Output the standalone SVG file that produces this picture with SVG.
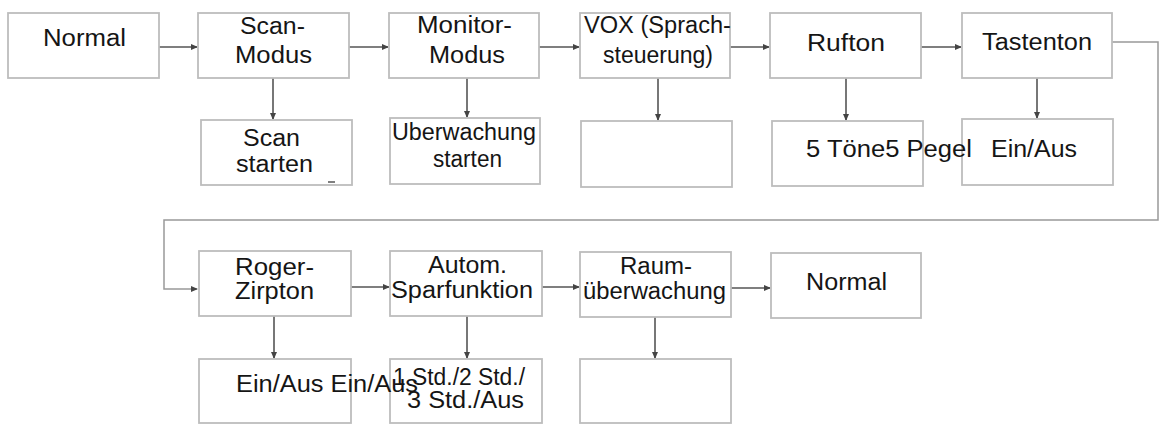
<svg xmlns="http://www.w3.org/2000/svg" width="1160" height="426" viewBox="0 0 1160 426">
<style>
.box{fill:#fff;stroke:#bdbdbd;stroke-width:1.8}
.t{font-family:"Liberation Sans",Arial,sans-serif;font-size:23.5px;fill:#151515;text-anchor:middle}
.s{text-anchor:start}
.c{fill:none;stroke:#555;stroke-width:1.6}
.l{fill:none;stroke:#999;stroke-width:1.5}
</style>
<defs>
<marker id="a" markerWidth="8" markerHeight="8" refX="6" refY="4" orient="auto" markerUnits="userSpaceOnUse">
<path d="M0,1 L7,4 L0,7 Z" fill="#444"/>
</marker>
</defs>
<rect width="1160" height="426" fill="#fff"/>
<g id="connectors">
<line class="c" x1="159" y1="47" x2="197" y2="47" marker-end="url(#a)"/>
<line class="c" x1="349" y1="47" x2="388" y2="47" marker-end="url(#a)"/>
<line class="c" x1="539" y1="47" x2="579" y2="47" marker-end="url(#a)"/>
<line class="c" x1="730" y1="47" x2="769" y2="47" marker-end="url(#a)"/>
<line class="c" x1="921" y1="47" x2="961" y2="47" marker-end="url(#a)"/>
<path class="l" d="M1112,42 H1158 V220 H164 V289 H197" marker-end="url(#a)"/>
<line class="c" x1="273" y1="78" x2="273" y2="119" marker-end="url(#a)"/>
<line class="c" x1="467" y1="78" x2="467" y2="117" marker-end="url(#a)"/>
<line class="c" x1="658" y1="78" x2="658" y2="120" marker-end="url(#a)"/>
<line class="c" x1="846" y1="78" x2="846" y2="120" marker-end="url(#a)"/>
<line class="c" x1="1037" y1="78" x2="1037" y2="118" marker-end="url(#a)"/>
<line class="c" x1="351" y1="287" x2="389" y2="287" marker-end="url(#a)"/>
<line class="c" x1="542" y1="287" x2="579" y2="287" marker-end="url(#a)"/>
<line class="c" x1="731" y1="288" x2="770" y2="288" marker-end="url(#a)"/>
<line class="c" x1="274" y1="316" x2="274" y2="358" marker-end="url(#a)"/>
<line class="c" x1="467" y1="316" x2="467" y2="358" marker-end="url(#a)"/>
<line class="c" x1="655" y1="317" x2="655" y2="358" marker-end="url(#a)"/>
</g>
<g id="n-normal1"><rect class="box" x="8" y="13" width="151" height="65"/><text class="t" x="84.5" y="46" font-size="24.5" textLength="83" lengthAdjust="spacingAndGlyphs">Normal</text></g>
<g id="n-scan"><rect class="box" x="198" y="13" width="151" height="65"/><text class="t" x="272.5" y="34" textLength="65" lengthAdjust="spacingAndGlyphs">Scan-</text><text class="t" x="273.5" y="63" textLength="77" lengthAdjust="spacingAndGlyphs">Modus</text></g>
<g id="n-monitor"><rect class="box" x="389" y="13" width="150" height="65"/><text class="t" x="464.5" y="33" textLength="95" lengthAdjust="spacingAndGlyphs">Monitor-</text><text class="t" x="467" y="63" textLength="76" lengthAdjust="spacingAndGlyphs">Modus</text></g>
<g id="n-vox"><rect class="box" x="580" y="13" width="150" height="65"/><text class="t" x="657.5" y="33" textLength="147" lengthAdjust="spacingAndGlyphs">VOX (Sprach-</text><text class="t" x="658" y="63" textLength="110" lengthAdjust="spacingAndGlyphs">steuerung)</text></g>
<g id="n-rufton"><rect class="box" x="770" y="13" width="151" height="65"/><text class="t" x="846" y="51" font-size="26" textLength="78" lengthAdjust="spacingAndGlyphs">Rufton</text></g>
<g id="n-tasten"><rect class="box" x="962" y="13" width="150" height="65"/><text class="t" x="1037" y="50" font-size="24.5" textLength="110" lengthAdjust="spacingAndGlyphs">Tastenton</text></g>
<g id="n-scanstart"><rect class="box" x="201" y="120" width="151" height="65"/><text class="t" x="271.5" y="146" textLength="57" lengthAdjust="spacingAndGlyphs">Scan</text><text class="t" x="274.5" y="172" textLength="77" lengthAdjust="spacingAndGlyphs">starten</text><line x1="328" y1="182" x2="335" y2="182" stroke="#555" stroke-width="1.5"/></g>
<g id="n-ueberw"><rect class="box" x="390" y="118" width="150" height="66"/><text class="t" x="464" y="140" font-size="23" textLength="144" lengthAdjust="spacingAndGlyphs">Uberwachung</text><text class="t" x="467.5" y="167" font-size="22" textLength="69" lengthAdjust="spacingAndGlyphs">starten</text></g>
<g id="n-voxsub"><rect class="box" x="581" y="121" width="151" height="66"/></g>
<g id="n-tastensub"><rect class="box" x="962" y="119" width="151" height="66"/><text class="t" x="1034" y="157" font-size="24.5" textLength="86" lengthAdjust="spacingAndGlyphs">Ein/Aus</text></g>
<g id="n-ruftonsub"><rect class="box" x="772" y="121" width="151" height="65"/><text class="t s" x="806" y="157" font-size="24.5" textLength="166" lengthAdjust="spacingAndGlyphs">5 Töne5 Pegel</text></g>
<g id="n-roger"><rect class="box" x="199" y="251" width="152" height="65"/><text class="t" x="274.5" y="275" textLength="79" lengthAdjust="spacingAndGlyphs">Roger-</text><text class="t" x="274.5" y="299" textLength="79" lengthAdjust="spacingAndGlyphs">Zirpton</text></g>
<g id="n-autom"><rect class="box" x="390" y="251" width="152" height="65"/><text class="t" x="467.5" y="273" textLength="79" lengthAdjust="spacingAndGlyphs">Autom.</text><text class="t" x="462" y="298" textLength="142" lengthAdjust="spacingAndGlyphs">Sparfunktion</text></g>
<g id="n-raum"><rect class="box" x="580" y="252" width="151" height="65"/><text class="t" x="656" y="274" textLength="72" lengthAdjust="spacingAndGlyphs">Raum-</text><text class="t" x="654.5" y="299" textLength="143" lengthAdjust="spacingAndGlyphs">überwachung</text></g>
<g id="n-normal2"><rect class="box" x="771" y="253" width="150" height="65"/><text class="t" x="846.5" y="290" font-size="24" textLength="81" lengthAdjust="spacingAndGlyphs">Normal</text></g>
<g id="n-automsub"><rect class="box" x="390" y="359" width="152" height="64"/><text class="t" x="459" y="385" textLength="132" lengthAdjust="spacingAndGlyphs">1 Std./2 Std./</text><text class="t" x="465.5" y="408" textLength="117" lengthAdjust="spacingAndGlyphs">3 Std./Aus</text></g>
<g id="n-rogersub"><rect class="box" x="199" y="359" width="152" height="64"/><text class="t s" x="236" y="392" textLength="182" lengthAdjust="spacingAndGlyphs">Ein/Aus Ein/Aus</text></g>
<g id="n-raumsub"><rect class="box" x="580" y="359" width="151" height="64"/></g>
</svg>
